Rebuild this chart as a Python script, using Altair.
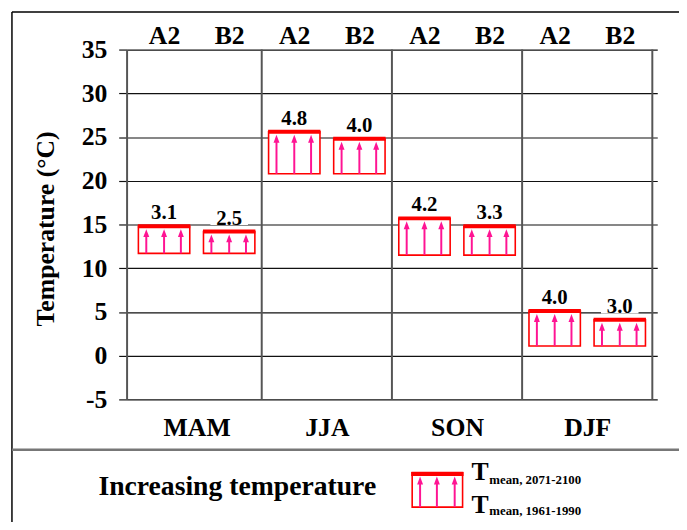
import json
import altair as alt
import pandas as pd

# ---------------- data ----------------
seasons = ["MAM", "JJA", "SON", "DJF"]
scenarios = ["A2", "B2"]
season_col = ["MAM", "MAM", "JJA", "JJA", "SON", "SON", "DJF", "DJF"]
scenario_col = ["A2", "B2", "A2", "B2", "A2", "B2", "A2", "B2"]
tmean_1961_1990 = [11.7, 11.7, 20.8, 20.8, 11.5, 11.5, 1.1, 1.1]
tmean_2071_2100 = [14.8, 14.2, 25.6, 24.8, 15.7, 14.8, 5.1, 4.1]
change_labels = ["3.1", "2.5", "4.8", "4.0", "4.2", "3.3", "4.0", "3.0"]
y_ticks = [-5, 0, 5, 10, 15, 20, 25, 30, 35]
y_title = "Temperature (°C)"
legend_title = "Increasing temperature"
legend_future = "mean, 2071-2100"
legend_base = "mean, 1961-1990"

FONT = "Liberation Serif"
RED = "#FF0000"
PINK = "#FF1493"

df = pd.DataFrame({
    "season": season_col,
    "scenario": scenario_col,
    "base": tmean_1961_1990,
    "future": tmean_2071_2100,
    "label": change_labels,
})
df["pos"] = [seasons.index(s) + (scenarios.index(c) * 2 + 1) / 4
             for s, c in zip(df["season"], df["scenario"])]

bounds = pd.DataFrame({"b": list(range(1, len(seasons) + 1))})
dummy = pd.DataFrame({"d": [0]})

xscale = alt.Scale(domain=[0, len(seasons)], nice=False, zero=False)
yscale = alt.Scale(domain=[-5, 35], nice=False, zero=False)

season_expr = json.dumps(seasons) + "[floor(datum.value)]"
scen_expr = json.dumps(scenarios) + "[round((datum.value % 1) * 4 - 1) / 2]"

yaxis = alt.Axis(
    values=y_ticks, grid=True, gridColor="#111111", gridWidth=1.2,
    tickColor="#111111", tickSize=8, tickWidth=1.2,
    domainColor="#555555", domainWidth=2,
    labelExpr="datum.value < 0 ? '-' + (-datum.value) : '' + datum.value",
    labelFont=FONT, labelFontWeight="bold", labelFontSize=26,
    labelColor="black", labelPadding=12,
    title=y_title, titleFont=FONT, titleFontWeight="bold",
    titleFontSize=26, titleColor="black", titleAngle=-90,
    titleX=-82, titleY=181, titleAlign="center", titleBaseline="middle")

X_none = alt.X("pos:Q", scale=xscale, axis=None)
Y_fut = alt.Y("future:Q", scale=yscale, axis=yaxis)
Y_base = alt.Y("base:Q", scale=yscale, axis=yaxis)

# vertical panel separators + bottom axis (seasons)
separators = alt.Chart(bounds).mark_rule(color="#555555", strokeWidth=2).encode(
    x=alt.X("b:Q", scale=xscale, axis=alt.Axis(
        orient="bottom", values=[i + 0.5 for i in range(len(seasons))],
        labelExpr=season_expr, grid=False, ticks=False, domain=False,
        labelFont=FONT, labelFontWeight="bold", labelFontSize=26,
        labelColor="black", labelPadding=16, title=None)),
)

# white background behind value labels
label_bg = alt.Chart(df).mark_point(
    shape="M-1,-0.45L1,-0.45L1,0.45L-1,0.45Z", size=1444, filled=True,
    color="white", opacity=1, yOffset=-15, strokeWidth=0,
).encode(x=X_none, y=Y_fut)

# boxes (with top axis for scenarios)
boxes = alt.Chart(df).mark_bar(
    width=52, fill="white", stroke=RED, strokeWidth=1.6,
).encode(
    x=alt.X("pos:Q", scale=xscale, axis=alt.Axis(
        orient="top", values=[i + (j * 2 + 1) / 4 for i in range(len(seasons)) for j in range(2)],
        labelExpr=scen_expr, grid=False, ticks=False, domain=False,
        labelFont=FONT, labelFontWeight="bold", labelFontSize=26,
        labelColor="black", labelPadding=1, title=None)),
    y=Y_base,
    y2="future:Q",
)

top_line = alt.Chart(df).mark_tick(
    orient="horizontal", size=53, thickness=4, color=RED, opacity=1,
).encode(x=X_none, y=Y_fut)

arrow_layers = []
for off in (-18, 0, 17):
    shaft = alt.Chart(df).mark_rule(
        color=PINK, strokeWidth=2, xOffset=off, y2Offset=7,
    ).encode(x=X_none, y=Y_base, y2="future:Q")
    head = alt.Chart(df).mark_point(
        shape="M0,-1L0.75,1L-0.75,1Z", size=64, filled=True, color=PINK,
        opacity=1, xOffset=off, yOffset=7, strokeWidth=0,
    ).encode(x=X_none, y=Y_fut)
    arrow_layers += [shaft, head]

values_text = alt.Chart(df).mark_text(
    font=FONT, fontWeight="bold", fontSize=21, color="black",
    baseline="alphabetic", dy=-7,
).encode(x=X_none, y=Y_fut, text="label:N")

# ---------------- frame and legend (decoration, pixel positions) ----------------
frame = [
    alt.Chart(dummy).mark_rule(color="black", strokeWidth=1.5).encode(
        x=alt.value(-116), y=alt.value(-38), y2=alt.value(480)),
    alt.Chart(dummy).mark_rule(color="black", strokeWidth=1.5).encode(
        x=alt.value(-116), x2=alt.value(560), y=alt.value(-38)),
    alt.Chart(dummy).mark_rule(color="#777777", strokeWidth=2.5).encode(
        x=alt.value(-116), x2=alt.value(560), y=alt.value(405)),
]

legend = [
    alt.Chart(dummy).mark_text(
        text=legend_title, font=FONT, fontWeight="bold", fontSize=28,
        color="black", align="center", baseline="alphabetic",
    ).encode(x=alt.value(112), y=alt.value(451)),
    alt.Chart(dummy).mark_rect(fill="white", stroke=RED, strokeWidth=1.6).encode(
        x=alt.value(289), x2=alt.value(340), y=alt.value(428), y2=alt.value(463)),
    alt.Chart(dummy).mark_rule(color=RED, strokeWidth=4).encode(
        x=alt.value(288), x2=alt.value(341), y=alt.value(429.5)),
]
for lx in (297, 314, 332):
    legend.append(alt.Chart(dummy).mark_rule(color=PINK, strokeWidth=2).encode(
        x=alt.value(lx), y=alt.value(463), y2=alt.value(439)))
    legend.append(alt.Chart(dummy).mark_point(
        shape="M0,-1L0.75,1L-0.75,1Z", size=64, filled=True, color=PINK,
        opacity=1, strokeWidth=0).encode(x=alt.value(lx), y=alt.value(436)))
for ty, sy, txt in ((436, 440, legend_future), (469, 471, legend_base)):
    legend.append(alt.Chart(dummy).mark_text(
        text="T", font=FONT, fontWeight="bold", fontSize=26, color="black",
        align="left", baseline="alphabetic").encode(x=alt.value(349), y=alt.value(ty)))
    legend.append(alt.Chart(dummy).mark_text(
        text=txt, font=FONT, fontWeight="bold", fontSize=13, color="black",
        align="left", baseline="alphabetic").encode(x=alt.value(367), y=alt.value(sy)))

chart = alt.layer(
    separators, label_bg, boxes, top_line, *arrow_layers,
    values_text, *frame, *legend,
).properties(
    width=537, height=354,
    autosize=alt.AutoSizeParams(type="none"),
    padding={"left": 120, "top": 39, "right": 22, "bottom": 121},
    background="white",
).configure_view(strokeWidth=0)

chart.save("out.html", embed_options={"renderer": "svg", "actions": False})
